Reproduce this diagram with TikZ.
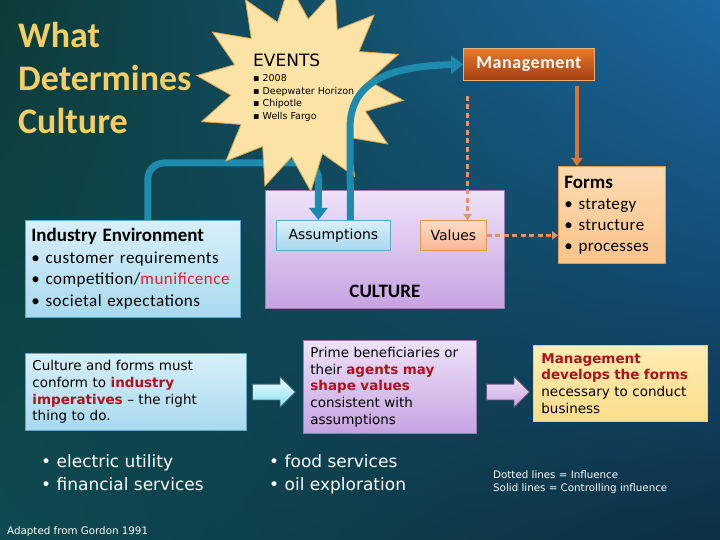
\documentclass[tikz,border=0pt]{standalone}
\usepackage{fontspec}
\setmainfont{Carlito}
\newfontfamily\dvs{DejaVu Sans}
\usepackage{xcolor}
\usetikzlibrary{calc,arrows.meta,positioning,shapes.geometric,shapes.arrows,shadings}
\definecolor{bgul}{HTML}{0C3B36}
\definecolor{bgur}{HTML}{1B68A4}
\definecolor{bgll}{HTML}{0E4A50}
\definecolor{bglr}{HTML}{0C2F44}
\definecolor{goldc}{HTML}{F4CD63}
\definecolor{starc}{HTML}{FDE3A6}
\definecolor{stard}{HTML}{D8A64E}
\definecolor{ctlc}{HTML}{1D8BAE}
\definecolor{orgc}{HTML}{DD7330}
\definecolor{infc}{HTML}{E3936A}
\definecolor{redc}{HTML}{B3101E}
\definecolor{brightred}{HTML}{E3202B}
\definecolor{bluet}{HTML}{D8F0F9}
\definecolor{blueb}{HTML}{A8D9EE}
\definecolor{blued}{HTML}{5EA9CA}
\definecolor{lavt}{HTML}{EEE2F8}
\definecolor{lavb}{HTML}{C6A3E2}
\definecolor{lavd}{HTML}{9A7BB6}
\definecolor{peacht}{HTML}{FDDAB2}
\definecolor{peachb}{HTML}{FBC48A}
\definecolor{peachd}{HTML}{E39A55}
\definecolor{salt}{HTML}{FFDCC4}
\definecolor{salb}{HTML}{FAB793}
\definecolor{mgt}{HTML}{E97A2B}
\definecolor{mgb}{HTML}{A23F10}
\definecolor{yelt}{HTML}{FEEDB2}
\definecolor{yelb}{HTML}{FCDC8A}
\tikzset{
  ctl/.style={line width=7pt,ctlc,-{Triangle[width=18pt,length=12pt]}},
  ctlo/.style={line width=4pt,orgc,-{Triangle[width=11pt,length=8pt]}},
  inf/.style={line width=2.2pt,infc,dash pattern=on 5pt off 3.5pt,-{Triangle[width=8pt,length=6pt]}},
  bbox/.style={draw=blued,thick,top color=bluet,bottom color=blueb,anchor=north west,align=left,inner sep=6pt,text=black},
  vbox/.style={draw=lavd,thick,top color=lavt,bottom color=lavb,anchor=north west,align=left,inner sep=7pt,text=black},
  obox/.style={draw=peachd,thick,top color=peacht,bottom color=peachb,anchor=north west,align=left,inner sep=6pt,text=black},
  barrow/.style={single arrow,single arrow head extend=7.5pt,minimum height=43pt,minimum width=30pt,inner xsep=0pt,inner ysep=7.5pt,anchor=west,thick},
  wtxt/.style={text=white,anchor=north west,align=left,inner sep=0pt}
}
\begin{document}
\begin{tikzpicture}[x=1pt,y=-1pt]
\useasboundingbox (0,0) rectangle (720,540);
\shade[upper left=bgul,upper right=bgur,lower left=bgll,lower right=bglr] (0,0) rectangle (720,540);
% title
\node[anchor=north west,text=goldc,font=\bfseries\fontsize{36}{43}\selectfont,align=left,inner sep=0pt] (ttl) at (18,22) {What\\Determines\\Culture};
% boxes
\node[bbox,minimum width=215pt,minimum height=97pt,text width=203pt,font=\fontsize{17}{21.5}\selectfont\addfontfeature{LetterSpace=3}] (ind) at (25,220)
  {{\bfseries\fontsize{19}{22}\selectfont\addfontfeature{LetterSpace=0} Industry Environment}\\
   \textbullet\ customer requirements\\
   \textbullet\ competition/\textcolor{brightred}{munificence}\\
   \textbullet\ societal expectations};
\node[vbox,minimum width=239pt,minimum height=118pt] (cult) at (265,190) {};
\node[font=\bfseries\fontsize{19}{22}\selectfont] (culttxt) at ($(cult.south)+(0,-17)$) {CULTURE};
\node[draw=blued,thick,top color=bluet,bottom color=blueb,anchor=north west,minimum width=114pt,minimum height=30pt,inner sep=0pt,font=\dvs\fontsize{14}{16}\selectfont] (assum) at (276,220) {Assumptions};
\node[draw=peachd,thick,top color=salt,bottom color=salb,anchor=north west,minimum width=66pt,minimum height=30pt,inner sep=0pt,font=\dvs\fontsize{14}{16}\selectfont] (vals) at (420,220) {Values};
\node[obox,minimum width=107pt,minimum height=97pt,text width=95pt,font=\fontsize{17}{21}\selectfont\addfontfeature{LetterSpace=2}] (forms) at (558,166)
  {{\bfseries\fontsize{19}{22}\selectfont\addfontfeature{LetterSpace=0} Forms}\\
   \textbullet\ strategy\\
   \textbullet\ structure\\
   \textbullet\ processes};
\node[draw=peachd!80!white,thick,top color=mgt,bottom color=mgb,anchor=north west,minimum width=131pt,minimum height=32pt,inner sep=0pt,text=white,font=\bfseries\fontsize{18}{20}\selectfont\addfontfeature{LetterSpace=3}] (mgmt) at (463,48) {Management};
% connectors
\draw[ctl,rounded corners=16pt] ([xshift=15pt]ind.north) -- ++(0,-57) -| ([xshift=-15pt]assum.north);
\node[star,star points=14,star point ratio=1.5,minimum size=208pt,fill=starc,draw=stard,thick,inner sep=0pt,shape border rotate=6] (burst) at (300,88) {};
\node[anchor=north west,inner sep=0pt,font=\dvs\fontsize{17}{20}\selectfont] (evt) at (253,54) {EVENTS};
\node[below right=7pt and 0pt of evt.south west,inner sep=0pt,align=left,font=\dvs\fontsize{9.5}{12.7}\selectfont] (evlist)
  {▪ 2008\\▪ Deepwater Horizon\\▪ Chipotle\\▪ Wells Fargo};
\draw[ctl] ([xshift=17pt]assum.north) -- (350,128) .. controls (350,80) and (392,66) .. (mgmt.west);
\draw[ctlo,shorten <=5pt] ([xshift=48pt]mgmt.south) -- ([xshift=48pt]mgmt.south |- forms.north);
\draw[inf,shorten <=15pt] ([xshift=4.5pt]mgmt.south west) -- ([xshift=4.5pt]mgmt.south west |- vals.north);
\draw[inf] (vals.east) -- (vals.east -| forms.west);
% bottom row
\node[bbox,inner sep=7pt,minimum width=221pt,minimum height=74pt,text width=207pt,font=\dvs\fontsize{13.5}{16.7}\selectfont] (conf) at (25,353)
  {Culture and forms must\\conform to \textcolor{redc}{\bfseries industry}\\\textcolor{redc}{\bfseries imperatives} – the right\\thing to do.};
\node[barrow,draw=blued!60!black,top color=white!70!bluet,bottom color=blueb!80!cyan] (ar1) at (252,392) {};
\node[vbox,minimum width=173pt,minimum height=92pt,text width=159pt,font=\dvs\fontsize{13.5}{16.6}\selectfont] (prime) at (303,340)
  {Prime beneficiaries or\\their \textcolor{redc}{\bfseries agents may}\\\textcolor{redc}{\bfseries shape values}\\consistent with\\assumptions};
\node[barrow,draw=lavd!70!black,top color=lavt,bottom color=lavb] (ar2) at (486,392) {};
\node[draw=yelb!80!orange,thick,top color=yelt,bottom color=yelb,anchor=north west,align=left,inner sep=8pt,minimum width=174pt,minimum height=75pt,text width=158pt,font=\dvs\fontsize{13.5}{16.7}\selectfont] (dev) at (533,345)
  {\textcolor{redc}{\bfseries Management}\\\textcolor{redc}{\bfseries develops the forms}\\necessary to conduct\\business};
% examples and notes
\node[wtxt,font=\dvs\fontsize{17}{23}\selectfont] (ex1) at (41,454) {• electric utility\\• financial services};
\node[wtxt,font=\dvs\fontsize{17}{23}\selectfont] (ex2) at (269,454) {• food services\\• oil exploration};
\node[wtxt,font=\dvs\fontsize{10.3}{13}\selectfont] (legend) at (493,470) {Dotted lines = Influence\\Solid lines = Controlling influence};
\node[wtxt,font=\dvs\fontsize{10.3}{12}\selectfont] (src) at (7,526) {Adapted from Gordon 1991};
\end{tikzpicture}
\end{document}
